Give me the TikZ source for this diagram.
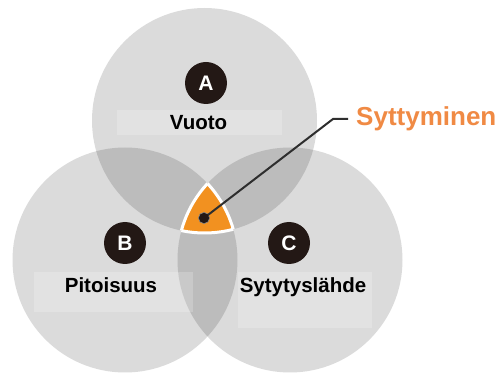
\documentclass[tikz,border=0pt]{standalone}
\usepackage{fontspec}
\setmainfont{Liberation Sans}
\definecolor{badge}{HTML}{231815}
\definecolor{fireor}{HTML}{F29120}
\definecolor{labelor}{HTML}{F08A44}
\definecolor{leader}{HTML}{2E2E2E}
\begin{document}
\begin{tikzpicture}[x=1pt,y=-1pt,
  setcircle/.style={fill=black,fill opacity=0.14},
  labelbox/.style={fill=white,fill opacity=0.2,draw=none},
  badgenode/.style={circle,fill=badge,minimum size=42pt,inner sep=0pt,text=white,font=\bfseries\fontsize{21}{21}\selectfont},
  setlabel/.style={anchor=base,font=\bfseries\fontsize{20.5}{24}\selectfont,text=black,inner sep=0pt}]
\useasboundingbox (0,0) rectangle (496,374);
\fill[white] (0,0) rectangle (496,374);
% circles
\coordinate (cA) at (204.5,120.5);
\coordinate (cB) at (125,260);
\coordinate (cC) at (290,260);
\fill[setcircle] (cA) circle (112.5);
\fill[setcircle] (cB) circle (112.5);
\fill[setcircle] (cC) circle (112.5);
% triple intersection
\begin{scope}
  \clip (cA) circle (112.5);
  \clip (cB) circle (112.5);
  \fill[fireor] (cC) circle (112.5);
\end{scope}
\begin{scope}
  \clip (cA) circle (112.5);
  \clip (cB) circle (112.5);
  \draw[white,line width=3] (cC) circle (112.5);
\end{scope}
\begin{scope}
  \clip (cA) circle (112.5);
  \clip (cC) circle (112.5);
  \draw[white,line width=3] (cB) circle (112.5);
\end{scope}
\begin{scope}
  \clip (cB) circle (112.5);
  \clip (cC) circle (112.5);
  \draw[white,line width=3] (cA) circle (112.5);
\end{scope}
% label boxes
\fill[labelbox] (117,110) rectangle (282,135);
\fill[labelbox] (34,272) rectangle (193,312);
\fill[labelbox] (238,272) rectangle (372,328);
% labels
\node[setlabel] (vuoto) at (198.5,130) {Vuoto};
\node[setlabel] (pitoisuus) at (111,293) {Pitoisuus};
\node[setlabel] (sytytys) at (303,293) {Sytytyslähde};
% badges
\node[badgenode] (bA) at (206,83) {A};
\node[badgenode] (bB) at (125,243) {B};
\node[badgenode] (bC) at (289,243) {C};
% ignition label and leader
\node[anchor=base west,inner sep=0pt,text=labelor,font=\bfseries\fontsize{26}{30}\selectfont] (sytt) at (356,126) {Syttyminen};
\node[circle,fill=badge,draw=leader!60,line width=0.8,minimum size=11pt,inner sep=0pt] (dot) at (204,218) {};
\coordinate (bend) at (333,119);
\coordinate (lend) at (348,119);
\draw[leader,line width=2] (dot.center) -- (bend) -- (lend);
\node[circle,fill=badge,minimum size=10pt,inner sep=0pt] at (dot) {};
\end{tikzpicture}
\end{document}
